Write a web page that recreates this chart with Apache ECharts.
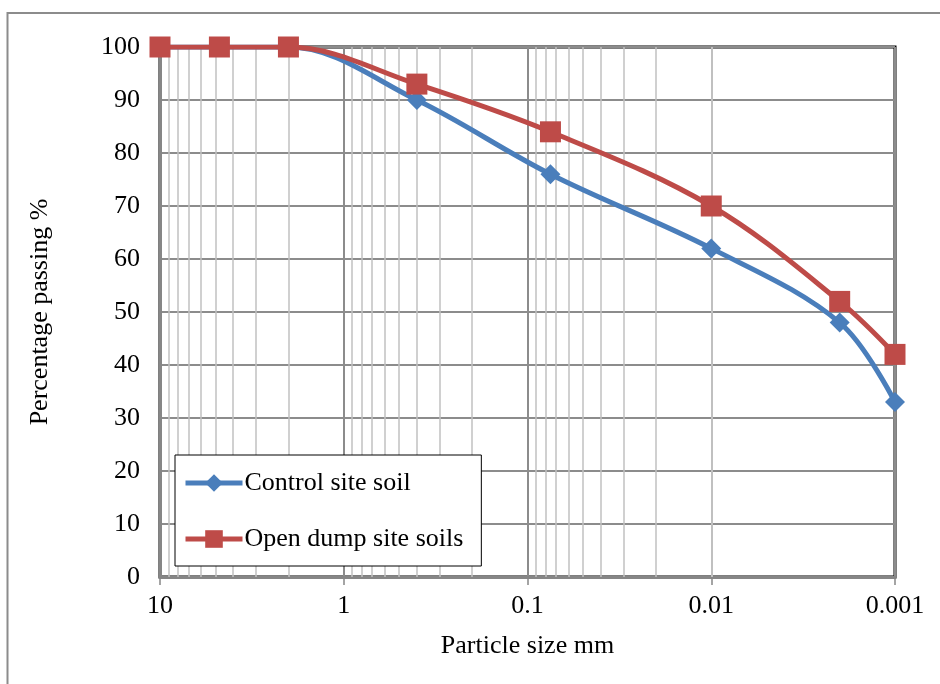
<!DOCTYPE html>
<html>
<head>
<meta charset="utf-8">
<script src="https://cdn.jsdelivr.net/npm/echarts@6/dist/echarts.min.js"></script>
<style>
    html, body { margin: 0; padding: 0; background: #fff; }
    #chart { width: 940px; height: 684px; }
</style>
</head>
<body>
<div id="chart"></div>
<script>
// particle sizes (mm) and percentage passing
var sizes = [10, 4.75, 2, 0.4, 0.075, 0.01, 0.002, 0.001];
var controlSoil = [100, 100, 100, 90, 76, 62, 48, 33];
var dumpSoil = [100, 100, 100, 93, 84, 70, 52, 42];
var xTickLabels = { "-3": "0.001", "-2": "0.01", "-1": "0.1", "0": "1", "1": "10" };

// minor log grid lines 2..9 in every decade
var minorTicks = [];
[0.001, 0.01, 0.1, 1].forEach(function (d) {
    for (var k = 2; k <= 9; k++) {
        minorTicks.push(+(d * k).toPrecision(3));
    }
});

function pairs(xs, ys) {
    var out = [];
    for (var i = 0; i < xs.length; i++) {
        out.push([xs[i], ys[i]]);
    }
    return out;
}

var font = "Liberation Serif";
var chart = echarts.init(document.getElementById("chart"));

var option = {
    animation: false,
    textStyle: { fontFamily: font },
    graphic: [{
        type: "rect",
        shape: { x: 7.5, y: 13, width: 1000, height: 1000 },
        style: { fill: "none", stroke: "#8c8c8c", lineWidth: 2 },
        silent: true,
        z: -10
    }],
    grid: {
        left: 160,
        right: 45,
        top: 47,
        bottom: 107,
        show: true,
        borderColor: "#000",
        borderWidth: 3
    },
    xAxis: {
        type: "log",
        logBase: 10,
        min: 0.001,
        max: 10,
        inverse: true,
        name: "Particle size mm",
        nameLocation: "middle",
        nameGap: 56,
        nameTextStyle: { fontSize: 26, color: "#000", fontFamily: font },
        axisLine: { lineStyle: { color: "#868686", width: 3 } },
        axisTick: { show: true, length: 8, lineStyle: { color: "#868686", width: 1.5 } },
        axisLabel: {
            fontSize: 26,
            color: "#000",
            fontFamily: font,
            margin: 16,
            formatter: function (v) {
                return xTickLabels[String(Math.round(Math.log10(v)))];
            }
        },
        splitLine: { show: true, lineStyle: { color: "#8c8c8c", width: 2 } }
    },
    yAxis: {
        type: "value",
        min: 0,
        max: 100,
        interval: 10,
        name: "Percentage passing %",
        nameLocation: "middle",
        nameGap: 107,
        nameTextStyle: { fontSize: 26, color: "#000", fontFamily: font },
        axisLine: { show: true, lineStyle: { color: "#868686", width: 3 } },
        axisTick: { show: false },
        axisLabel: { fontSize: 26, color: "#000", fontFamily: font, margin: 20 },
        splitLine: { show: true, lineStyle: { color: "#8c8c8c", width: 2 } }
    },
    legend: {
        orient: "vertical",
        left: 175,
        top: 455,
        width: 300,
        z: 20,
        backgroundColor: "#fff",
        borderColor: "#000",
        borderWidth: 1,
        padding: [15, 18, 14, 8],
        itemGap: 30,
        itemWidth: 57,
        itemHeight: 22,
        lineStyle: { width: 5, type: "solid" },
        textStyle: { fontSize: 26, color: "#000", fontFamily: font, padding: [0, 0, 0, -3] },
        data: ["Control site soil", "Open dump site soils"]
    },
    series: [
        {
            name: "minor grid",
            type: "line",
            data: [],
            silent: true,
            z: 1,
            markLine: {
                silent: true,
                z: 1,
                symbol: "none",
                label: { show: false },
                animation: false,
                lineStyle: { color: "#c0c0c0", width: 1.5, type: "solid" },
                data: minorTicks.map(function (v) { return { xAxis: v }; })
            }
        },
        {
            name: "Control site soil",
            type: "line",
            data: pairs(sizes, controlSoil),
            smooth: 0.35,
            symbol: "diamond",
            symbolSize: 20,
            lineStyle: { color: "#4a7ebb", width: 5 },
            itemStyle: { color: "#4a7ebb" },
            z: 3
        },
        {
            name: "Open dump site soils",
            type: "line",
            data: pairs(sizes, dumpSoil),
            smooth: 0.35,
            symbol: "rect",
            symbolSize: 21,
            lineStyle: { color: "#be4b48", width: 5 },
            itemStyle: { color: "#be4b48" },
            z: 4
        }
    ]
};

chart.setOption(option);
</script>
</body>
</html>
